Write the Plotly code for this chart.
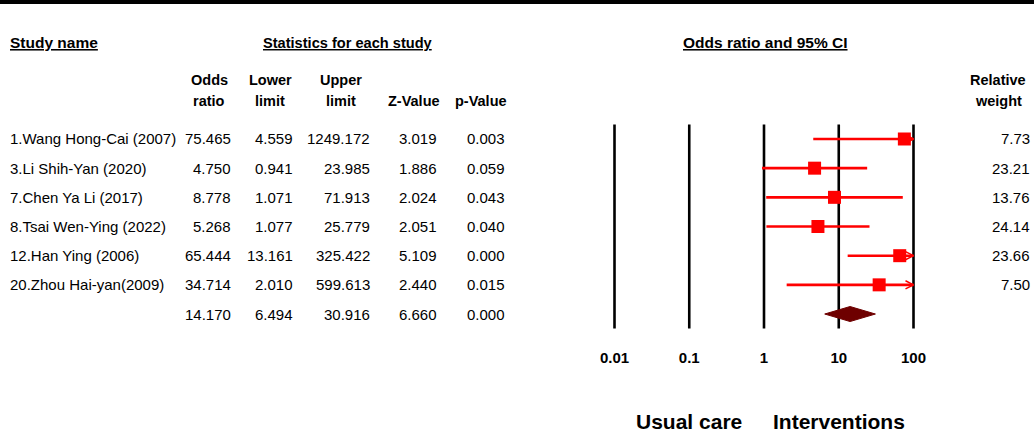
import math
import plotly.graph_objects as go

# ---------------- data ----------------
study_names = ["1.Wang Hong-Cai (2007)", "3.Li Shih-Yan (2020)", "7.Chen Ya Li (2017)",
               "8.Tsai Wen-Ying (2022)", "12.Han Ying (2006)", "20.Zhou Hai-yan(2009)"]
odds_ratio = [75.465, 4.750, 8.778, 5.268, 65.444, 34.714]
lower_limit = [4.559, 0.941, 1.071, 1.077, 13.161, 2.010]
upper_limit = [1249.172, 23.985, 71.913, 25.779, 325.422, 599.613]
z_value = [3.019, 1.886, 2.024, 2.051, 5.109, 2.440]
p_value = [0.003, 0.059, 0.043, 0.040, 0.000, 0.015]
relative_weight = [7.73, 23.21, 13.76, 24.14, 23.66, 7.50]

summary_or = 14.170
summary_lower = 6.494
summary_upper = 30.916
summary_z = 6.660
summary_p = 0.000

tick_values = [0.01, 0.1, 1, 10, 100]
tick_labels = ["0.01", "0.1", "1", "10", "100"]
left_label = "Usual care"
right_label = "Interventions"

# ---------------- layout constants ----------------
W, H = 1034, 434
FONT = "Liberation Sans, Arial, sans-serif"
RED = "#FF0000"
DARK = "#6E0000"

n = len(study_names)
rows = list(range(n))
summary_row = n
x_max = max(tick_values)
x_min = min(tick_values)

px_per_decade = 74.75
x_pad = 0.05
x1_px = 764  # pixel of OR = 1
dom_x0 = (x1_px + (math.log10(x_min) - x_pad) * px_per_decade) / W
dom_x1 = (x1_px + (math.log10(x_max) + x_pad) * px_per_decade) / W

row0_px = 139
px_per_row = 29.17
y_pad = 0.6
y_top_px = row0_px - y_pad * px_per_row
y_bot_px = row0_px + (n + y_pad) * px_per_row
dom_y0 = 1 - y_bot_px / H
dom_y1 = 1 - y_top_px / H

fig = go.Figure()

# vertical reference lines at each tick
vx, vy = [], []
for v in tick_values:
    vx += [v, v, None]
    vy += [-0.5, n + 0.5, None]
fig.add_trace(go.Scatter(x=vx, y=vy, mode="lines", line=dict(color="black", width=2.6),
                         hoverinfo="skip", showlegend=False))

# CI lines (clipped to axis max)
cx, cy = [], []
for i in rows:
    cx += [max(lower_limit[i], x_min), min(upper_limit[i], x_max), None]
    cy += [i, i, None]
fig.add_trace(go.Scatter(x=cx, y=cy, mode="lines", line=dict(color=RED, width=2.6),
                         hoverinfo="skip", showlegend=False))

# arrow chevrons for truncated CIs
arrow_dx = 10 ** (8 / px_per_decade)
arrow_dy = 0.14
ax_, ay_ = [], []
for i in rows:
    if upper_limit[i] > x_max:
        ax_ += [x_max / arrow_dx, x_max, x_max / arrow_dx, None]
        ay_ += [i - arrow_dy, i, i + arrow_dy, None]
fig.add_trace(go.Scatter(x=ax_, y=ay_, mode="lines", line=dict(color=RED, width=1.5),
                         hoverinfo="skip", showlegend=False))

# point estimates
fig.add_trace(go.Scatter(x=odds_ratio, y=rows, mode="markers",
                         marker=dict(symbol="square", size=13, color=RED),
                         hoverinfo="skip", showlegend=False, cliponaxis=False))

# summary diamond
dh = 7.5 / px_per_row
fig.add_trace(go.Scatter(
    x=[summary_lower, summary_or, summary_upper, summary_or, summary_lower],
    y=[summary_row, summary_row - dh, summary_row, summary_row + dh, summary_row],
    mode="lines", fill="toself", fillcolor=DARK, line=dict(color=DARK, width=1),
    hoverinfo="skip", showlegend=False))

annotations = []


def add_text(text, xpx, y, anchor="left", size=15, yref="y", color="black"):
    annotations.append(dict(
        text=text, x=xpx / W, y=y if yref == "y" else 1 - y / H, xref="paper", yref=yref,
        xanchor=anchor, yanchor="middle", showarrow=False,
        font=dict(family=FONT, size=size, color=color)))


# table body
col_or, col_lo, col_up, col_z, col_p, col_w = 233, 295, 372, 439, 507, 1032
for i in rows:
    add_text(study_names[i], 8, i)
    add_text(f"{odds_ratio[i]:.3f}", col_or, i, "right")
    add_text(f"{lower_limit[i]:.3f}", col_lo, i, "right")
    add_text(f"{upper_limit[i]:.3f}", col_up, i, "right")
    add_text(f"{z_value[i]:.3f}", col_z, i, "right")
    add_text(f"{p_value[i]:.3f}", col_p, i, "right")
    add_text(f"{relative_weight[i]:.2f}", col_w, i, "right")

add_text(f"{summary_or:.3f}", col_or, summary_row, "right")
add_text(f"{summary_lower:.3f}", col_lo, summary_row, "right")
add_text(f"{summary_upper:.3f}", col_up, summary_row, "right")
add_text(f"{summary_z:.3f}", col_z, summary_row, "right")
add_text(f"{summary_p:.3f}", col_p, summary_row, "right")

# headers
add_text("<b><u>Study name</u></b>", 8, 43, "left", 15.5, "paper")
add_text("<b><u>Statistics for each study</u></b>", 348, 43, "center", 14.6, "paper")
add_text("<b><u>Odds ratio and 95% CI</u></b>", 765, 43, "center", 15.5, "paper")

for label, xc in [("Odds", 209), ("Lower", 270), ("Upper", 341), ("Relative", 998)]:
    add_text(f"<b>{label}</b>", xc, 80, "center", 14.5, "paper")
for label, xc in [("ratio", 209), ("limit", 270), ("limit", 341), ("Z-Value", 414),
                  ("p-Value", 481), ("weight", 998)]:
    add_text(f"<b>{label}</b>", xc, 101, "center", 14.5, "paper")

# bottom favour labels (positioned on the log axis)
for lab, v in [(left_label, 0.1), (right_label, 10)]:
    annotations.append(dict(text=f"<b>{lab}</b>", x=math.log10(v), xref="x",
                            y=1 - 421 / H, yref="paper", xanchor="center", yanchor="middle",
                            showarrow=False, font=dict(family=FONT, size=21, color="black")))

fig.update_layout(
    width=W, height=H,
    margin=dict(l=0, r=0, t=0, b=0, pad=0, autoexpand=False),
    paper_bgcolor="white", plot_bgcolor="white",
    annotations=annotations,
    shapes=[dict(type="rect", xref="paper", yref="paper", x0=0, x1=1,
                 y0=1 - 4 / H, y1=1, fillcolor="black", line=dict(width=0))],
    xaxis=dict(type="log", range=[math.log10(x_min) - x_pad, math.log10(x_max) + x_pad],
               domain=[dom_x0, dom_x1], showgrid=False, zeroline=False, showline=False,
               tickvals=tick_values, ticktext=[f"<b>{t}</b>" for t in tick_labels],
               ticks="", ticklabelstandoff=15, automargin=False,
               tickfont=dict(family=FONT, size=15, color="black"), fixedrange=True),
    yaxis=dict(range=[n + y_pad, -y_pad], domain=[dom_y0, dom_y1], showgrid=False,
               automargin=False,
               zeroline=False, showline=False, showticklabels=False, fixedrange=True),
    showlegend=False,
)

fig.write_html("out.html", config={"displayModeBar": False},
               post_script="document.body.style.margin='0';document.body.style.overflow='hidden';")
